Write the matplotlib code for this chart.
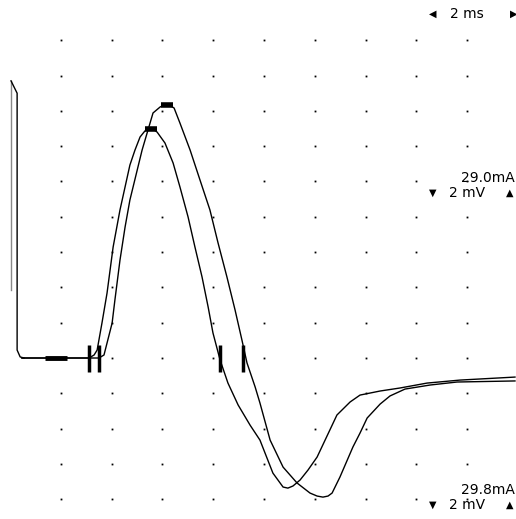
import numpy as np
import matplotlib
matplotlib.use("Agg")
import matplotlib.pyplot as plt

# -------------------------------
# DATA (time in ms, amplitude in mV)
# -------------------------------
early_t = [0.47, 3.11, 3.31, 3.43, 3.62, 3.82, 4.06, 4.33, 4.72, 4.92, 5.12, 5.31, 5.43,
           5.55, 5.67, 5.79, 6.10, 6.42, 6.69, 7.01, 7.28, 7.56, 7.80, 7.99, 8.27, 8.58,
           8.98, 9.45, 9.84, 10.35, 10.75, 10.94, 11.14, 11.42, 11.73, 12.09, 12.48, 12.87,
           13.39, 13.78, 14.57, 15.35, 16.42, 17.72, 19.88]
early_v = [0.0, 0.0, 0.17, 0.45, 1.98, 3.68, 6.29, 8.39, 10.93, 11.78, 12.52, 12.86, 12.95,
           12.97, 12.92, 12.80, 12.18, 11.05, 9.69, 7.99, 6.29, 4.59, 2.89, 1.42, -0.11, -1.42,
           -2.66, -3.80, -4.65, -6.52, -7.31, -7.37, -7.25, -6.91, -6.35, -5.61, -4.42, -3.23,
           -2.49, -2.10, -1.87, -1.70, -1.42, -1.25, -1.08]

late_t = [0.47, 3.50, 3.70, 3.82, 4.02, 4.13, 4.33, 4.53, 4.72, 5.20, 5.63, 5.91, 6.02,
          6.18, 6.34, 6.46, 6.69, 7.09, 7.48, 7.87, 8.19, 8.54, 8.86, 9.13, 9.33, 9.65,
          9.84, 10.24, 10.75, 11.30, 11.81, 12.09, 12.32, 12.52, 12.68, 12.99, 13.50, 13.78,
          14.06, 14.57, 14.96, 15.55, 16.54, 17.60, 19.88]
late_v = [0.0, 0.0, 0.17, 0.85, 1.98, 3.29, 5.55, 7.42, 8.95, 11.78, 13.88, 14.22, 14.30,
          14.33, 14.27, 14.16, 13.31, 11.78, 10.08, 8.39, 6.52, 4.59, 2.72, 1.02, -0.28, -1.64,
          -2.55, -4.65, -6.18, -7.08, -7.65, -7.82, -7.88, -7.82, -7.65, -6.74, -5.04, -4.25,
          -3.40, -2.61, -2.15, -1.76, -1.53, -1.36, -1.30]

# stimulus artifact
art1_t = [0.04, 0.28, 0.28, 0.40, 0.55]
art1_v = [15.7, 15.0, 0.45, 0.06, 0.0]
art2_t = [0.04, 0.04]
art2_v = [3.86, 15.7]

onset_t = [3.11, 3.50]          # onset cursors
cross_t = [8.27, 9.17]          # baseline crossing cursors
peak_t = [5.55, 6.18]
peak_v = [12.97, 14.33]
base_bar = [1.38, 2.24]

stim_labels = ["29.0mA", "29.8mA"]

# -------------------------------
# PLOT
# -------------------------------
fig = plt.figure(figsize=(5.16, 5.19), dpi=100)
ax = fig.add_axes([0, 0, 1, 1])
ax.set_xlim(-0.394, 19.92)
ax.set_ylim(-9.12, 20.28)
ax.axis("off")

# dot grid: 2 ms x 2 mV
gx, gy = np.meshgrid(np.arange(2, 19, 2), np.arange(-8, 19, 2))
ax.plot(gx.ravel(), gy.ravel(), "s", color="black", ms=1.3, mew=0)

ax.plot(art2_t, art2_v, color="#888888", lw=1)
ax.plot(art1_t, art1_v, color="black", lw=1)
ax.plot(early_t, early_v, color="black", lw=1, solid_joinstyle="round")
ax.plot(late_t, late_v, color="black", lw=1, solid_joinstyle="round")

ax.plot(base_bar, [0, 0], color="black", lw=3.5, solid_capstyle="butt")
for t in onset_t + cross_t:
    ax.plot([t, t], [-0.79, 0.74], color="black", lw=2.5, solid_capstyle="butt")
for t, v in zip(peak_t, peak_v):
    ax.plot([t - 0.23, t + 0.23], [v, v], color="black", lw=4, solid_capstyle="butt")

fs = 10
ax.text(0.905, 0.973, "2 ms", transform=ax.transAxes, fontsize=fs, ha="center", va="center")
ax.text(0.839, 0.973, "◀", transform=ax.transAxes, fontsize=7, ha="center", va="center")
ax.text(0.995, 0.973, "▶", transform=ax.transAxes, fontsize=7, ha="center", va="center")

for lab, yf in zip(stim_labels, [0.657, 0.056]):
    ax.text(0.997, yf, lab, transform=ax.transAxes, fontsize=fs, ha="right", va="center")
    ax.text(0.905, yf - 0.029, "2 mV", transform=ax.transAxes, fontsize=fs, ha="center", va="center")
    ax.text(0.839, yf - 0.029, "▼", transform=ax.transAxes, fontsize=7, ha="center", va="center")
    ax.text(0.988, yf - 0.029, "▲", transform=ax.transAxes, fontsize=7, ha="center", va="center")

fig.savefig("out.png", dpi=100, facecolor="white")
